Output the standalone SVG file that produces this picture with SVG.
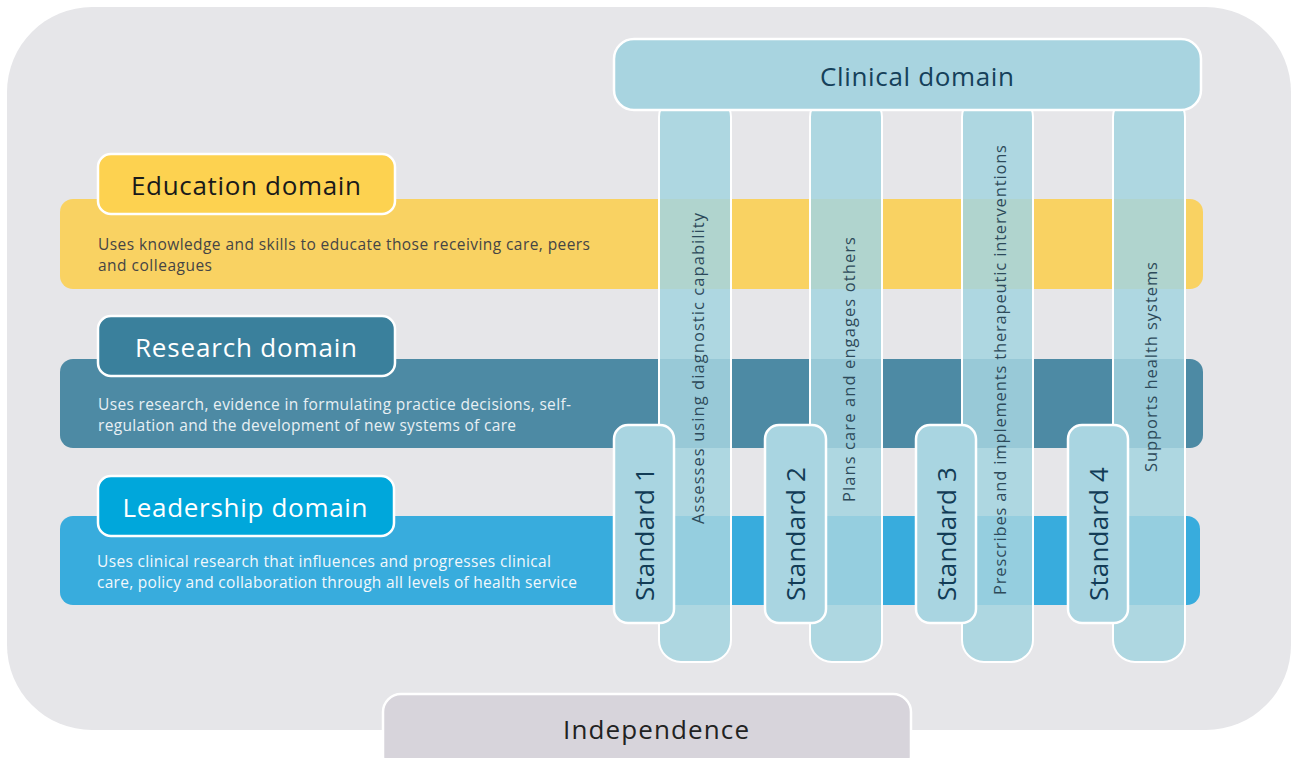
<svg xmlns="http://www.w3.org/2000/svg" width="1292" height="758" viewBox="0 0 1292 758">
<style>
.head{font-family:"Open Sans",Lato,"Liberation Sans",sans-serif;font-size:26px;text-anchor:middle}
.desc{font-family:"Open Sans",Lato,"Liberation Sans",sans-serif;font-size:15.5px}
.col{fill:#a4d4df;fill-opacity:0.86;stroke:#ffffff;stroke-width:2}
.std{fill:#a9d5e1;stroke:#ffffff;stroke-width:2.5}
.stdt{font-family:"Open Sans",Lato,"Liberation Sans",sans-serif;font-size:26px;fill:#123c56}
.colt{font-family:"Open Sans",Lato,"Liberation Sans",sans-serif;font-size:16.5px;fill:#2d4a5a}
.lbl{stroke:#ffffff;stroke-width:2.5}
</style>
<rect width="1292" height="758" fill="#ffffff"/>
<rect id="background" x="7" y="7" width="1284" height="723" rx="85" fill="#e6e6e9"/>

<g id="education">
<rect x="60" y="199" width="1143" height="90" rx="13" fill="#f9d262"/>
<rect class="lbl" x="98" y="154" width="297" height="60" rx="13" fill="#fdd250"/>
<text class="head" x="246" y="195" fill="#1a1a1a" textLength="230">Education domain</text>
<text class="desc" x="98" y="250" fill="#454545" textLength="492">Uses knowledge and skills to educate those receiving care, peers</text>
<text class="desc" x="98" y="271" fill="#454545" textLength="114">and colleagues</text>
</g>

<g id="research">
<rect x="60" y="359" width="1143" height="89" rx="13" fill="#4d8aa4"/>
<rect class="lbl" x="98" y="316" width="297" height="60" rx="13" fill="#3a809c"/>
<text class="head" x="246" y="357" fill="#ffffff" textLength="222">Research domain</text>
<text class="desc" x="98" y="410" fill="#e8f0f4" textLength="473">Uses research, evidence in formulating practice decisions, self-</text>
<text class="desc" x="98" y="431" fill="#e8f0f4" textLength="418">regulation and the development of new systems of care</text>
</g>

<g id="leadership">
<rect x="60" y="516" width="1140" height="89" rx="13" fill="#38acdd"/>
<rect class="lbl" x="98" y="476" width="296" height="60" rx="13" fill="#00a7db"/>
<text class="head" x="245" y="517" fill="#ffffff" textLength="245">Leadership domain</text>
<text class="desc" x="97" y="567" fill="#f2f8fc" textLength="454">Uses clinical research that influences and progresses clinical</text>
<text class="desc" x="97" y="588" fill="#f2f8fc" textLength="480">care, policy and collaboration through all levels of health service</text>
</g>

<g id="column1">
<rect class="col" x="659" y="95" width="72" height="567" rx="22"/>
<text class="colt" transform="translate(704,524) rotate(-90)" textLength="311">Assesses using diagnostic capability</text>
</g>
<g id="column2">
<rect class="col" x="810" y="95" width="72" height="567" rx="22"/>
<text class="colt" transform="translate(855,502) rotate(-90)" textLength="265">Plans care and engages others</text>
</g>
<g id="column3">
<rect class="col" x="962" y="95" width="71" height="567" rx="22"/>
<text class="colt" transform="translate(1006,595) rotate(-90)" textLength="450">Prescribes and implements therapeutic interventions</text>
</g>
<g id="column4">
<rect class="col" x="1113" y="95" width="72" height="567" rx="22"/>
<text class="colt" transform="translate(1157,472) rotate(-90)" textLength="210">Supports health systems</text>
</g>

<g id="clinical">
<rect x="614" y="39" width="587" height="71" rx="20" fill="#a8d4e0" stroke="#ffffff" stroke-width="2.5"/>
<text class="head" x="917" y="86" fill="#15405a" textLength="194">Clinical domain</text>
</g>

<g id="standard1">
<rect class="std" x="614" y="425" width="60" height="198" rx="14"/>
<text class="stdt" transform="translate(654,601) rotate(-90)" textLength="134">Standard 1</text>
</g>
<g id="standard2">
<rect class="std" x="765" y="425" width="61" height="198" rx="14"/>
<text class="stdt" transform="translate(805,601) rotate(-90)" textLength="134">Standard 2</text>
</g>
<g id="standard3">
<rect class="std" x="916" y="425" width="60" height="198" rx="14"/>
<text class="stdt" transform="translate(956,601) rotate(-90)" textLength="134">Standard 3</text>
</g>
<g id="standard4">
<rect class="std" x="1068" y="425" width="60" height="198" rx="14"/>
<text class="stdt" transform="translate(1108,601) rotate(-90)" textLength="134">Standard 4</text>
</g>

<g id="independence">
<rect x="383" y="694" width="528" height="80" rx="18" fill="#d7d4db" stroke="#ffffff" stroke-width="2.5"/>
<text class="head" x="656" y="739" fill="#222222" textLength="186">Independence</text>
</g>
</svg>
